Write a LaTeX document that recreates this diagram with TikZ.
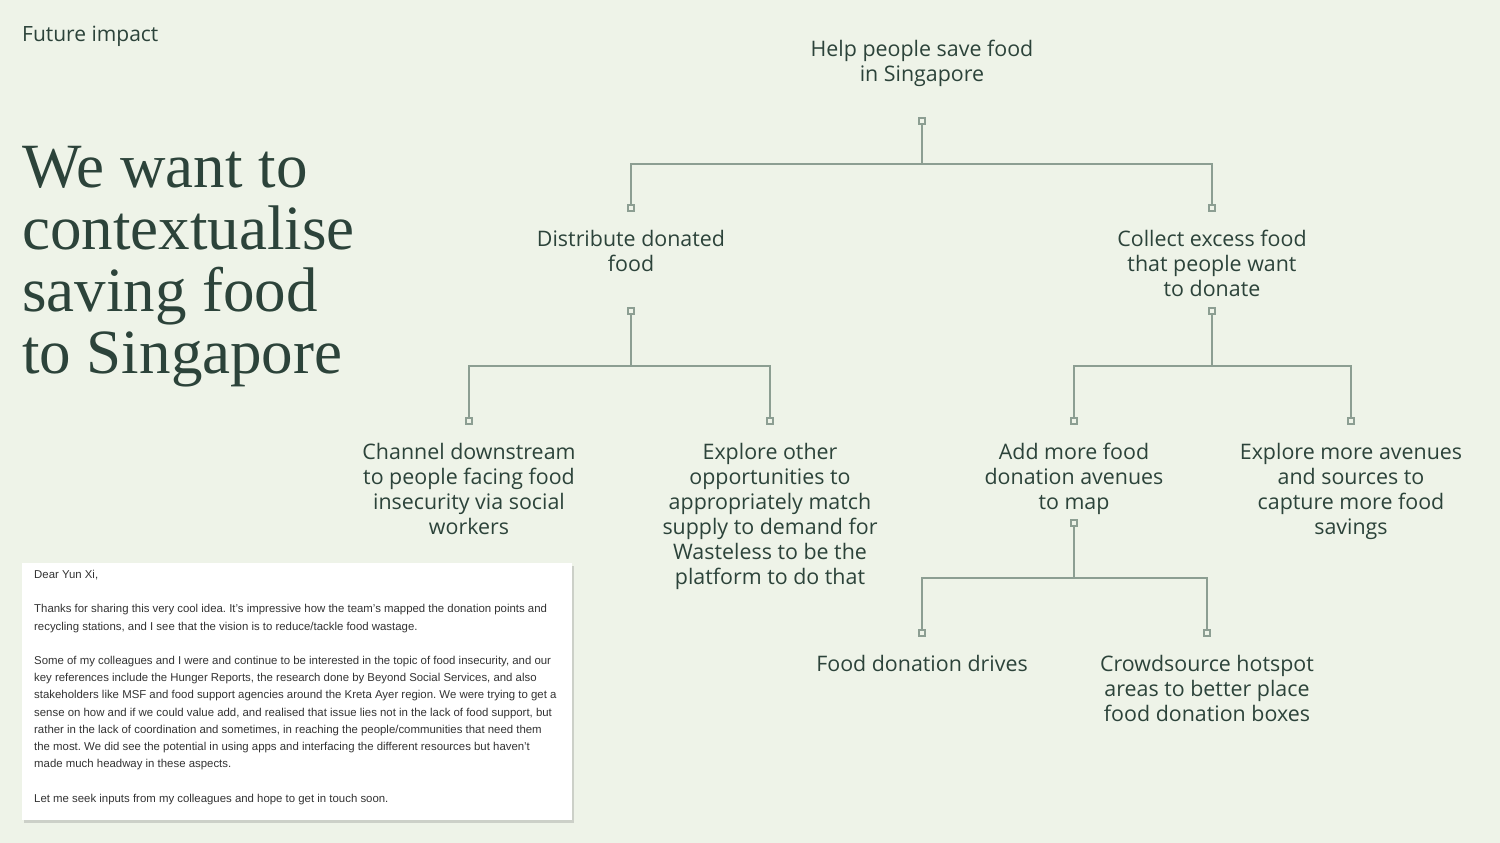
\documentclass[tikz,border=0pt]{standalone}
\usepackage{fontspec}
\usetikzlibrary{shadows}
\newfontfamily\labelfont{Open Sans}
\newfontfamily\titlefont{Liberation Serif}
\newfontfamily\mailfont{Liberation Sans}
\definecolor{bg}{HTML}{EEF3E8}
\definecolor{ink}{HTML}{2C433A}
\definecolor{lin}{HTML}{8C9E92}
\definecolor{mailink}{HTML}{333333}
\frenchspacing

\begin{document}
\begin{tikzpicture}[x=1pt,y=-1pt,
    goal/.style={anchor=north,align=center,inner sep=0pt,text=ink,
        font=\labelfont\fontsize{21.4}{25}\selectfont},
    port/.style={draw=lin,fill=bg,line width=1.2pt,minimum size=6pt,inner sep=0pt},
    link/.style={draw=lin,line width=1.8pt}]
            \fill[bg] (0,0) rectangle (1500,843);
            \useasboundingbox (0,0) rectangle (1500,843);
            % heading and title
            \node[anchor=north west,inner sep=0pt,text=ink,font=\labelfont\fontsize{21}{25}\selectfont] (kicker) at (22,26) {Future impact};
            \node[anchor=north west,inner sep=0pt,align=left,text=ink,font=\titlefont\fontsize{63}{62}\selectfont] (title) at (22,146)
                {We want to\\contextualise\\saving food\\to Singapore};
            % email screenshot
            \node[anchor=north west,fill=white,minimum width=550pt,minimum height=257pt,inner sep=0pt,
                drop shadow={shadow xshift=1.5pt,shadow yshift=-2.5pt,opacity=0.3}] (mail) at (22,563) {};
            \node[anchor=north west,inner sep=0pt,align=left,text=mailink,font=\mailfont\fontsize{11.4}{17.2}\selectfont] (mailtext) at (34,570)
                {Dear Yun Xi,\\[17.2pt]
                 Thanks for sharing this very cool idea. It’s impressive how the team’s mapped the donation points and\\
                 recycling stations, and I see that the vision is to reduce/tackle food wastage.\\[17.2pt]
                 Some of my colleagues and I were and continue to be interested in the topic of food insecurity, and our\\
                 key references include the Hunger Reports, the research done by Beyond Social Services, and also\\
                 stakeholders like MSF and food support agencies around the Kreta Ayer region. We were trying to get a\\
                 sense on how and if we could value add, and realised that issue lies not in the lack of food support, but\\
                 rather in the lack of coordination and sometimes, in reaching the people/communities that need them\\
                 the most. We did see the potential in using apps and interfacing the different resources but haven’t\\
                 made much headway in these aspects.\\[17.2pt]
                 Let me seek inputs from my colleagues and hope to get in touch soon.};
            % goal tree
            \node[goal] (save) at (922,40) {Help people save food\\in Singapore};
            \node[goal] (distribute) at (631,230) {Distribute donated\\food};
            \node[goal] (collect) at (1212,230) {Collect excess food\\that people want\\to donate};
            \node[goal] (channel) at (469,443) {Channel downstream\\to people facing food\\insecurity via social\\workers};
            \node[goal] (explore) at (770,443) {Explore other\\opportunities to\\appropriately match\\supply to demand for\\Wasteless to be the\\platform to do that};
            \node[goal] (addmore) at (1074,443) {Add more food\\donation avenues\\to map};
            \node[goal] (avenues) at (1351,443) {Explore more avenues\\and sources to\\capture more food\\savings};
            \node[goal] (drives) at (922,655) {Food donation drives};
            \node[goal] (hotspot) at (1207,655) {Crowdsource hotspot\\areas to better place\\food donation boxes};
            % ports
            \node[port] (saveOut) at (922,121) {};
            \node[port] (distributeIn) at (631,208) {};
            \node[port] (collectIn) at (1212,208) {};
            \node[port] (distributeOut) at (631,311) {};
            \node[port] (collectOut) at (1212,311) {};
            \node[port] (channelIn) at (469,421) {};
            \node[port] (exploreIn) at (770,421) {};
            \node[port] (addmoreIn) at (1074,421) {};
            \node[port] (avenuesIn) at (1351,421) {};
            \node[port] (addmoreOut) at (1074,523) {};
            \node[port] (drivesIn) at (922,633) {};
            \node[port] (hotspotIn) at (1207,633) {};
            % links
            \draw[link] (saveOut) -- ++(0,43) -| (distributeIn);
            \draw[link] (saveOut) -- ++(0,43) -| (collectIn);
            \draw[link] (distributeOut) -- ++(0,55) -| (channelIn);
            \draw[link] (distributeOut) -- ++(0,55) -| (exploreIn);
            \draw[link] (collectOut) -- ++(0,55) -| (addmoreIn);
            \draw[link] (collectOut) -- ++(0,55) -| (avenuesIn);
            \draw[link] (addmoreOut) -- ++(0,55) -| (drivesIn);
            \draw[link] (addmoreOut) -- ++(0,55) -| (hotspotIn);
        \end{tikzpicture}
\end{document}
